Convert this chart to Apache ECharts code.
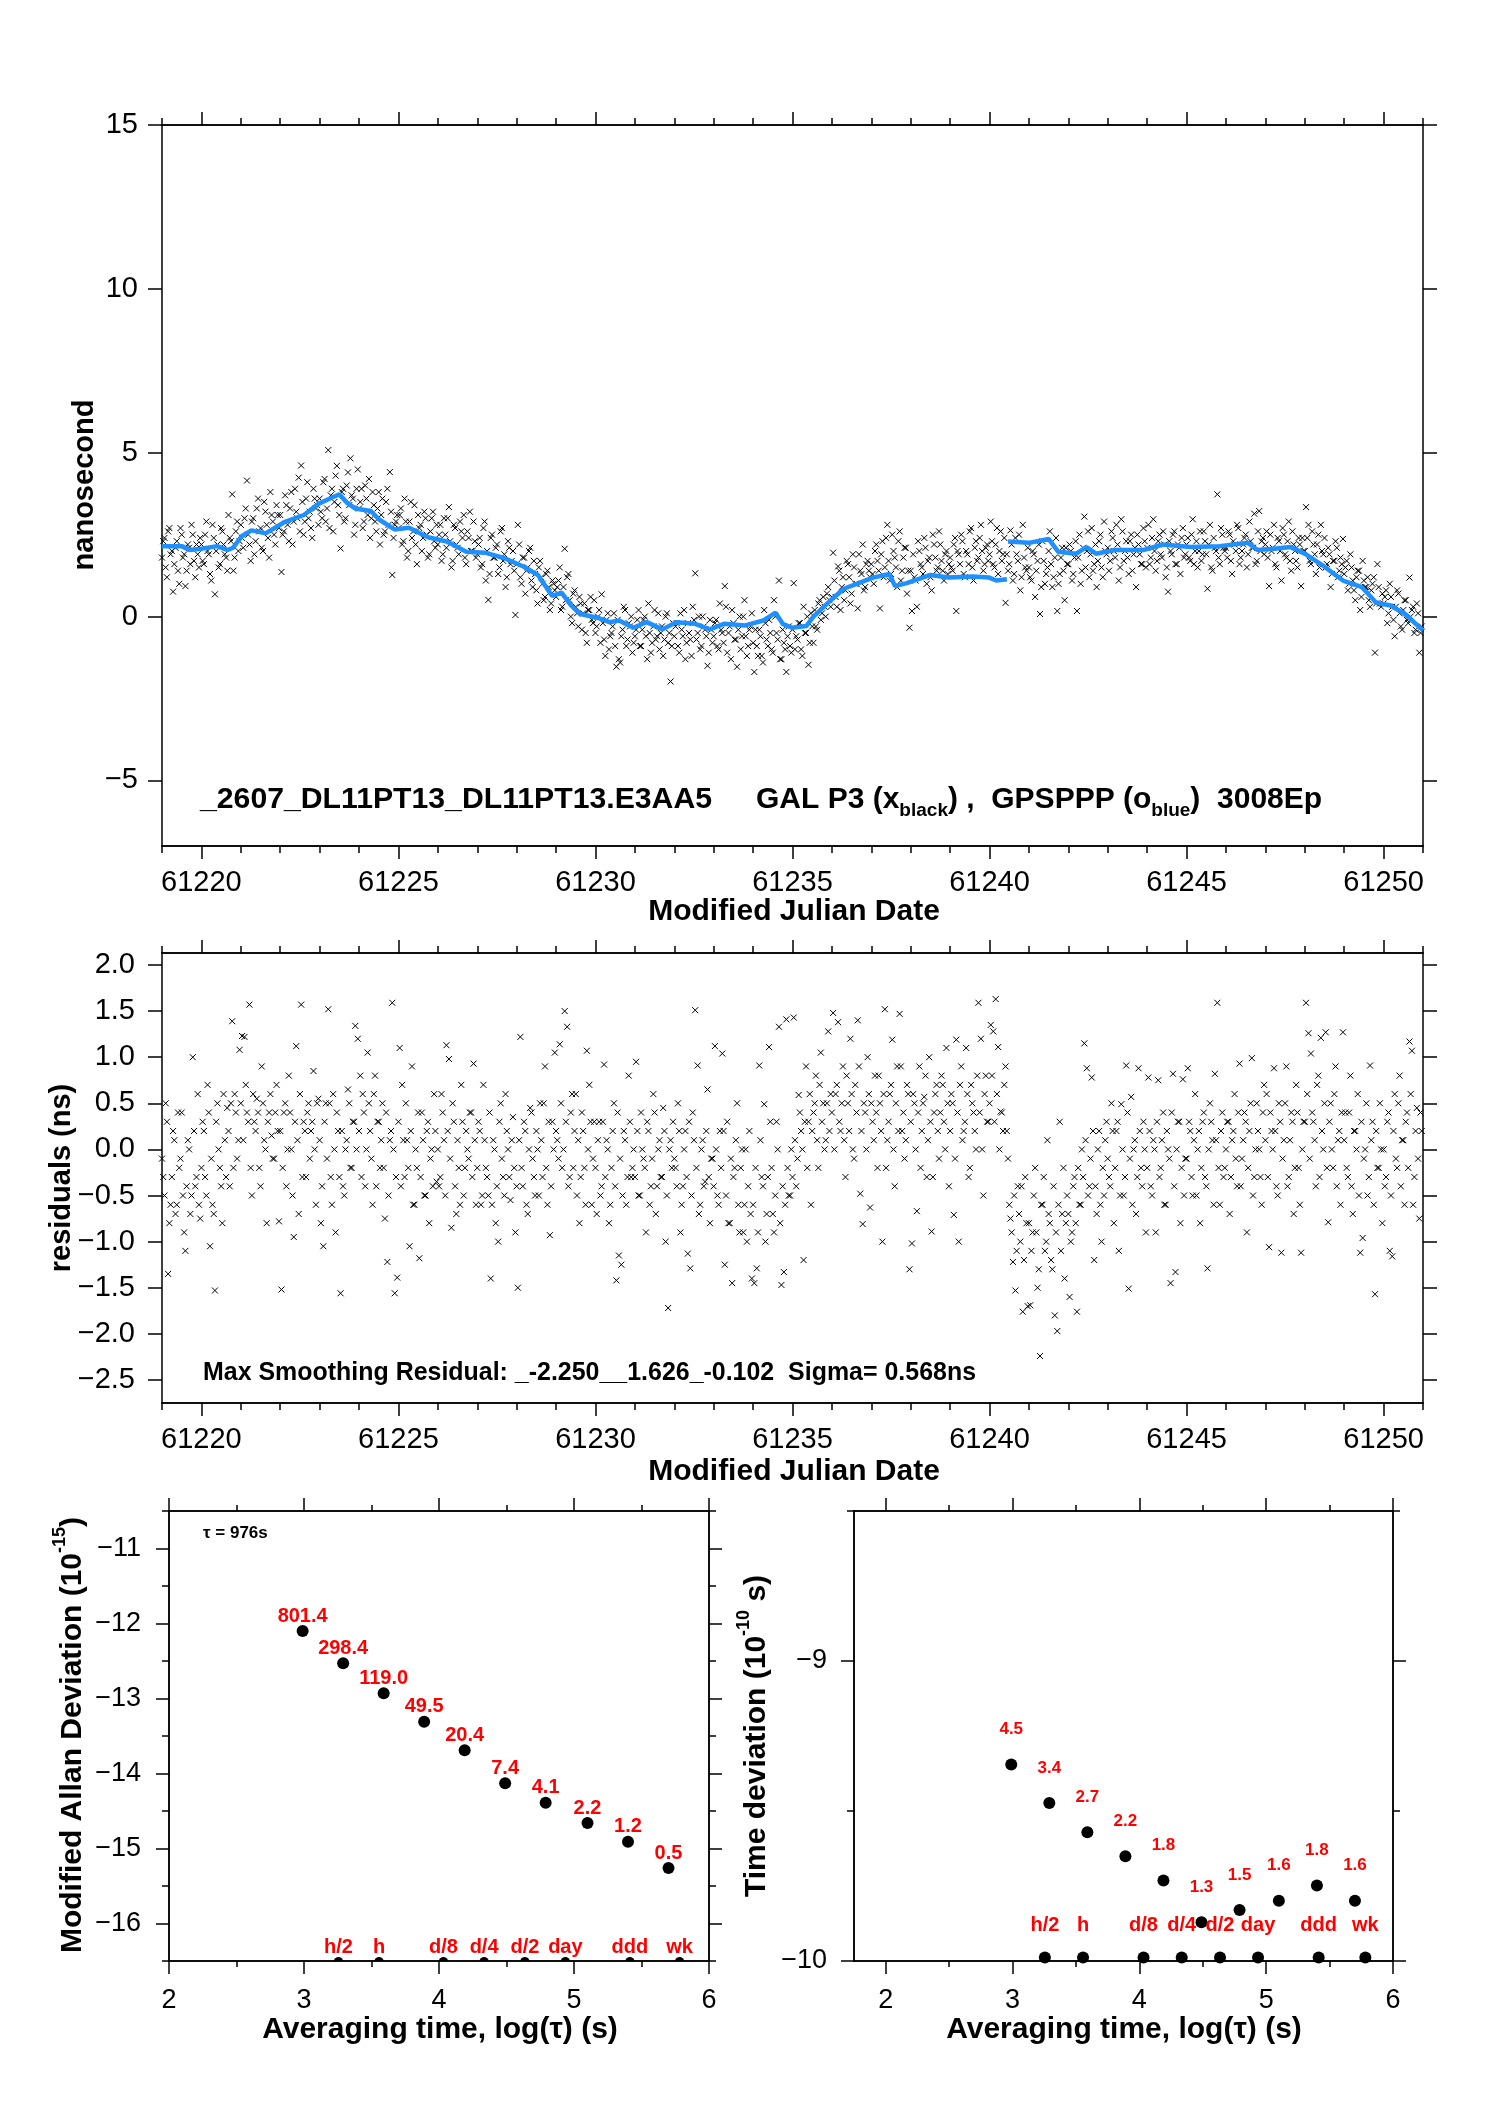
<!DOCTYPE html>
<html lang="en">
<head>
  <meta charset="utf-8">
  <script src="https://cdn.jsdelivr.net/npm/echarts@6.0.0/dist/echarts.min.js"></script>
</head>
<body style="margin:0;background:#fff">
  <div id="container" style="width:1488px;height:2105px"></div>
  <script>
    // ---- data ----
    // epoch grid: 16 samples per day starting at MJD 61219 (one row per day);
    // a second set of rows sits half an epoch earlier
    const FIRST_MJD = 61219;
    const PER_DAY = 16;

    // top panel, black x marks (ns)
    const phaseNs = [
      2.3,1.5,2.6,1.9,0.76,2.1,1.4,2.7,1.8,0.93,2.2,1.6,2.5,1.2,1.9,2.4,
      1.7,2.5,2.0,1.3,2.8,0.68,2.2,1.6,2.6,1.9,1.4,2.4,3.73,1.8,2.9,2.3,
      2.4,3.0,4.15,2.2,2.9,1.9,3.3,2.6,2.1,3.5,2.8,1.8,3.1,2.5,3.4,2.7,
      1.36,2.6,3.4,2.3,3.8,2.9,3.2,4.24,4.61,2.5,3.6,3.0,2.7,3.9,3.3,2.8,
      3.2,4.1,2.9,5.08,3.7,2.6,4.3,3.4,2.08,3.9,3.0,4.4,4.83,3.6,2.8,4.49,
      3.5,2.7,4.0,3.1,2.4,3.8,2.9,3.3,2.2,3.6,2.6,3.9,4.41,1.27,2.8,3.1,
      3.1,2.2,3.6,1.8,2.9,2.4,3.4,1.6,2.7,2.0,3.2,2.5,1.9,3.0,2.3,2.8,
      2.5,1.7,3.0,2.1,3.34,1.5,2.8,2.2,1.9,2.6,3.1,1.6,2.4,2.0,2.9,1.8,
      2.2,1.5,2.7,1.1,0.51,2.4,1.8,2.1,1.3,2.6,1.7,0.9,2.3,1.6,2.0,0.05,
      2.8,1.2,1.8,0.7,1.5,2.1,0.9,1.3,0.4,1.7,1.0,0.6,1.4,0.2,1.1,0.8,
      0.9,1.5,0.3,2.07,1.2,0.5,-0.2,0.8,0.1,0.6,-0.4,0.4,-0.8,0.2,-0.1,0.5,
      -0.3,0.2,0.68,-0.7,-0.1,-1.0,-0.5,0.1,-1.53,-1.3,-0.6,0.3,-0.9,-0.2,0.0,-0.8,
      -0.4,0.2,-0.9,-0.1,-0.6,0.4,-1.1,-0.3,-0.7,0.1,-0.5,-1.2,0.0,-0.8,-1.98,-0.2,
      -0.3,-0.9,0.1,-0.6,-1.3,-0.2,-0.7,0.3,1.32,-0.5,-1.0,0.0,-0.4,-1.5,-0.1,-0.8,
      -0.2,-0.9,0.4,-0.5,0.93,-1.1,-0.3,0.2,-0.7,-1.53,0.0,-0.6,0.5,-1.2,-0.4,0.1,
      -1.69,-0.9,-0.4,-1.2,0.2,-0.7,-0.1,-1.0,0.5,-0.5,1.1,-1.3,-0.8,-1.69,-0.3,-1.1,
      1.02,-0.6,-0.2,-1.0,0.3,-0.5,-1.47,0.1,-0.8,-0.3,0.4,-0.1,0.6,0.0,0.9,0.3,
      1.95,0.6,1.53,0.2,1.2,0.8,1.6,0.4,1.9,1.0,0.25,1.4,2.2,0.9,1.7,1.2,
      1.3,2.0,1.7,0.25,2.3,1.5,2.8,1.1,2.5,1.8,0.9,2.6,1.4,2.1,0.7,-0.34,
      0.17,1.2,0.3,2.0,1.5,2.4,1.0,1.8,0.8,2.2,1.4,2.6,1.7,1.1,2.0,1.6,
      1.5,2.2,0.17,1.9,2.5,1.3,2.0,1.6,2.7,1.1,2.3,1.8,2.8,1.4,2.1,1.7,
      2.9,1.6,2.2,1.3,2.6,1.9,0.42,1.4,2.63,1.1,2.4,1.7,0.8,2.8,1.5,2.1,
      1.2,2.0,0.6,1.7,0.08,2.3,1.0,1.5,2.6,0.9,1.8,0.17,1.3,2.1,0.5,1.6,
      2.2,1.1,1.8,0.17,2.5,1.4,3.05,2.0,1.2,2.7,1.6,0.9,2.3,1.5,2.9,1.9,
      1.4,2.6,2.0,2.8,1.1,2.97,1.7,2.3,1.3,2.5,1.9,0.9,2.2,1.6,2.7,1.5,
      2.8,1.8,2.97,1.4,2.3,1.9,2.6,1.2,0.76,2.0,2.5,1.6,2.2,1.3,2.7,1.9,
      2.4,1.7,2.97,2.0,1.5,2.6,1.9,2.3,0.85,2.8,1.4,2.1,3.73,1.6,2.5,2.0,
      1.8,2.5,1.3,2.2,2.8,1.6,2.0,2.4,1.5,2.9,2.1,3.14,1.7,3.22,2.3,1.9,
      2.6,0.93,2.0,2.8,1.5,2.3,1.1,2.5,1.8,2.9,1.4,2.2,1.7,2.4,0.93,2.0,
      3.34,2.8,1.6,2.2,1.3,2.5,2.8,1.9,1.5,2.1,0.9,1.7,2.3,1.2,1.8,2.37,
      1.5,0.8,1.9,1.1,0.5,1.4,0.2,1.7,0.9,1.2,0.3,1.0,-1.1,1.6,0.4,0.7,
      0.6,-0.2,1.0,0.3,-0.6,0.8,0.1,-0.4,0.5,-0.1,1.19,0.2,-0.5,0.4,-1.1,-0.3
    ];
    const phaseNs2 = [
      1.8,2.4,1.2,2.7,2.0,1.6,2.3,1.0,2.5,1.9,1.4,2.1,2.8,1.7,2.2,1.5,
      2.2,1.6,2.9,1.9,1.1,2.4,2.0,1.5,2.7,2.2,1.8,3.1,2.3,1.4,2.6,2.0,
      2.8,2.1,3.3,2.5,1.7,3.0,2.3,3.6,2.7,2.0,3.2,2.4,3.8,2.9,2.2,3.1,
      3.1,2.5,3.7,2.8,3.3,2.2,3.9,3.0,2.6,3.5,2.9,4.1,3.2,2.4,3.6,3.4,
      3.6,3.0,4.2,3.3,2.7,3.9,3.5,4.6,3.1,3.8,2.9,4.0,3.4,3.7,2.5,3.9,
      3.3,3.9,2.9,3.6,4.2,3.0,3.4,2.6,3.8,3.1,2.5,3.5,2.8,3.2,2.4,2.9,
      2.7,3.3,2.3,2.9,2.0,3.5,2.6,2.2,3.1,2.8,2.4,3.0,1.8,2.6,3.2,2.1,
      2.2,2.8,1.9,2.5,3.0,2.3,1.7,2.7,2.1,2.9,2.4,1.8,2.6,3.2,2.0,2.3,
      1.9,2.4,1.6,2.9,2.0,1.3,2.5,1.8,2.2,1.5,2.7,1.9,1.2,2.1,1.7,1.4,
      1.6,2.2,1.0,1.8,1.4,2.0,1.1,1.7,0.8,1.5,1.2,0.5,1.3,0.9,0.4,1.0,
      0.6,1.1,0.2,0.9,0.5,1.3,0.0,0.7,0.3,-0.3,0.4,0.1,-0.5,0.2,0.6,-0.2,
      -0.5,0.0,-0.8,-0.2,-1.2,0.1,-0.6,-0.3,-0.9,-0.1,-1.4,-0.4,0.2,-0.7,-0.3,-1.1,
      -0.6,-0.1,-0.9,-0.4,0.0,-1.3,-0.5,-0.8,0.2,-0.6,-1.0,-0.3,-0.7,0.1,-0.5,-0.9,
      -0.6,-0.2,-1.1,-0.4,0.2,-0.8,-0.5,-1.2,-0.1,-0.7,0.0,-0.9,-0.3,-0.6,-1.1,-0.4,
      -0.6,-0.1,-1.0,-0.4,-0.8,0.3,-0.5,-1.3,-0.2,-0.7,-0.4,-1.0,0.0,-0.6,-0.9,-0.3,
      -0.8,-0.4,-1.2,-0.6,-1.4,-0.2,-0.9,-0.5,-1.1,0.0,-0.7,-1.3,-0.4,-1.0,-0.6,-0.9,
      -0.4,-1.0,-0.7,-0.2,-1.2,-0.5,0.0,-0.8,-0.3,0.2,-0.4,0.5,0.1,0.3,0.7,0.5,
      0.6,1.1,0.3,1.4,0.9,0.5,1.7,1.2,0.7,1.5,1.0,1.9,1.3,0.8,1.6,1.4,
      1.6,1.0,2.2,1.4,1.9,1.2,2.4,1.7,1.3,2.0,1.5,2.3,1.1,1.8,2.1,1.4,
      1.4,1.9,1.1,2.3,1.6,1.3,2.1,1.7,1.2,2.5,1.8,1.5,2.2,1.4,1.9,1.3,
      1.8,1.4,2.4,2.0,1.6,2.3,1.2,1.9,2.6,1.5,2.1,1.7,2.4,2.0,1.6,2.2,
      1.9,2.3,1.5,2.7,2.0,1.7,2.4,1.9,1.6,2.2,1.3,1.9,2.5,1.2,1.8,1.4,
      1.5,1.1,1.9,1.4,2.2,0.9,1.7,1.3,2.0,1.6,1.2,2.4,1.0,1.8,1.4,2.1,
      1.6,2.0,1.3,2.3,1.8,1.0,2.1,1.5,2.6,1.9,1.4,2.2,1.7,2.5,1.2,2.0,
      2.1,1.7,2.4,1.8,2.2,1.5,2.6,2.0,1.8,2.3,1.4,2.1,2.5,1.9,1.6,2.3,
      2.1,1.6,2.4,2.0,1.7,2.5,1.8,2.2,1.5,2.3,1.9,2.6,1.6,2.1,2.4,1.8,
      2.2,1.8,2.5,1.6,2.3,2.0,1.7,2.6,1.9,2.2,1.5,2.4,2.0,1.8,2.7,2.1,
      2.1,2.6,1.7,2.3,2.0,2.7,1.8,2.2,2.5,1.9,2.3,2.1,1.6,2.6,2.0,2.4,
      2.2,1.8,2.5,2.1,1.6,2.4,2.0,2.7,1.9,2.3,1.7,2.6,2.0,1.5,2.2,2.4,
      2.0,2.4,1.7,2.6,1.9,2.2,1.5,2.0,2.4,1.6,1.9,1.3,1.7,2.1,1.4,1.6,
      1.3,1.7,1.0,1.5,0.8,1.2,1.4,0.6,1.1,0.9,0.5,0.8,1.2,0.4,0.9,0.3,
      0.4,0.8,0.1,0.6,-0.1,0.3,0.7,-0.3,0.2,0.5,-0.2,0.0,0.3,-0.4,0.1,-0.5
    ];

    // top panel, blue GPSPPP curve (null = gap)
    const pppMjd = [
      61219.0,61219.5,61219.7,61220.0,61220.4,61220.67,61220.8,61221.03,61221.27,61221.63,
      61222.1,61222.6,61222.97,61223.33,61223.5,61223.7,61223.9,61224.3,61224.5,61224.9,
      61225.27,61225.75,61226.23,61226.72,61227.2,61227.69,61228.17,61228.54,61228.9,61229.14,
      61229.38,61229.62,61230.1,61230.35,61230.6,61230.96,61231.3,61231.7,61232.05,61232.53,
      61232.9,61233.26,61233.8,61234.26,61234.57,61234.75,61234.99,61235.35,61235.53,61235.9,
      61236.3,61236.68,61237.04,61237.46,61237.6,61237.9,61238.5,61238.97,61239.57,61239.99,
      61240.17,61240.44,61240.45,61240.47,61241.0,61241.5,61241.74,61242.2,61242.46,61242.7,
      61243.18,61243.9,61244.39,61245.1,61245.84,61246.56,61246.8,61247.28,61247.64,61248.0,
      61248.49,61248.97,61249.45,61249.81,61250.18,61250.54,61251.0
    ];
    const pppNs = [
      2.15,2.15,2.03,2.07,2.15,2.03,2.1,2.46,2.63,2.54,
      2.88,3.1,3.44,3.64,3.73,3.47,3.3,3.22,2.97,2.66,
      2.71,2.42,2.29,1.98,1.95,1.78,1.53,1.27,0.63,0.73,
      0.34,0.08,-0.05,-0.17,-0.12,-0.34,-0.17,-0.39,-0.17,-0.22,
      -0.39,-0.22,-0.27,-0.12,0.12,-0.22,-0.34,-0.29,0,0.42,
      0.85,1.02,1.19,1.3,0.93,1.02,1.27,1.19,1.22,1.19,
      1.10,1.14,null,2.29,2.25,2.37,1.98,1.92,2.12,1.92,
      2.03,2.03,2.2,2.12,2.15,2.25,2.03,2.08,2.12,1.92,
      1.53,1.1,0.9,0.42,0.34,0.08,-0.42
    ];

    // middle panel, smoothing residuals (ns)
    const residNs = [
      -0.3,0.5,-1.35,-0.6,0.2,-0.7,0.4,-0.1,-0.5,-1.1,0.1,-0.7,1.0,-0.4,0.6,-0.75,
      0.3,-0.3,0.7,-1.05,-0.6,-1.53,0.5,-0.2,-0.8,0.1,0.45,-0.4,1.39,0.6,-0.1,1.08,
      1.23,1.22,0.4,1.57,-0.5,0.3,0.55,-0.2,0.9,0.1,-0.8,0.4,0.15,-0.1,0.7,-0.78,
      -1.52,0.4,-0.4,0.8,0.0,-0.95,1.12,-0.7,1.57,0.3,-0.3,0.5,0.2,0.85,-0.6,0.55,
      -0.8,-1.05,0.5,1.52,-0.3,0.6,-0.9,0.2,-1.56,-0.4,0.0,0.65,-0.2,0.3,1.34,1.2,
      0.8,0.6,-0.4,1.05,0.2,-0.6,0.8,0.3,-0.2,0.5,-0.75,-1.22,0.1,1.59,-1.56,-1.39,
      1.1,0.7,-0.3,0.1,-1.05,0.9,-0.6,-0.2,-1.18,0.4,-0.5,0.2,-0.8,0.0,0.6,-0.35,
      -0.4,0.6,0.1,1.13,0.98,-0.85,0.3,-0.7,-0.2,0.7,-0.5,0.2,-0.1,0.4,0.93,-0.6,
      0.3,-0.6,0.7,-0.2,-0.5,-1.4,0.1,-0.8,-1.0,0.5,-0.3,0.6,0.0,-0.55,0.35,-0.9,
      -1.5,1.22,-0.4,0.2,-0.7,0.45,-0.1,-0.5,0.0,0.5,-0.3,0.9,-0.6,-0.93,0.3,1.05,
      0.1,1.14,-0.2,1.5,1.33,-0.3,0.6,0.2,-0.5,-0.8,0.4,-0.2,1.07,0.7,-0.6,0.3,
      -0.7,0.3,-0.4,0.92,0.1,-0.8,-0.2,0.5,-1.42,-1.15,-1.25,0.2,-0.6,0.8,-0.3,0.0,
      0.95,-0.5,0.4,-0.1,-0.9,0.2,-0.4,0.6,-0.7,0.0,-0.3,0.45,-1.0,-1.72,0.1,0.3,
      -0.2,0.5,-0.9,-0.4,0.2,-1.13,-1.29,0.4,1.51,0.91,-0.6,0.1,-0.35,0.65,-0.8,-0.1,
      1.12,-0.5,0.2,1.04,-1.25,0.3,-0.8,-1.45,-0.2,0.5,-0.9,0.0,-0.6,-1.0,0.2,-1.4,
      -1.45,-1.29,0.91,-0.3,0.49,-0.7,1.11,-0.2,-0.9,0.3,1.33,-1.47,-1.33,1.41,-0.5,0.0,
      1.43,-0.4,0.59,0.2,-1.2,0.9,0.3,-0.6,0.4,0.8,-0.2,1.05,0.5,0.1,1.28,0.6,
      1.48,0.6,1.38,0.2,0.9,-0.3,0.5,1.2,0.0,0.7,1.4,-0.48,-0.81,0.4,1.0,-0.63,
      0.3,0.8,-0.2,0.5,-1.0,1.52,0.1,0.6,1.19,-0.4,0.9,1.47,0.2,-0.1,0.7,-1.3,
      -1.02,0.5,-0.67,0.9,0.2,0.57,-0.3,1.0,-0.89,0.4,0.7,-0.1,0.8,0.3,1.1,-0.4,
      0.6,-0.71,1.19,-1.0,0.9,0.2,1.1,-0.3,0.7,0.4,0.0,1.59,1.2,-0.5,0.8,0.3,
      1.35,1.28,1.63,1.11,0.41,0.2,0.9,-0.1,-0.75,-1.22,-1.53,-0.4,-1.0,-1.76,-0.3,-1.7,
      -1.69,-0.9,-0.2,-1.5,-2.24,-0.6,-1.1,0.1,-0.8,-1.3,-1.8,-1.97,0.3,-0.7,-1.4,-0.5,
      -1.6,-0.9,-0.3,-1.76,-0.6,0.0,1.15,0.88,-0.4,0.78,-1.2,-0.7,0.2,-1.0,-0.5,0.3,
      -0.3,0.5,-0.8,0.2,-1.1,0.49,-0.5,0.91,-1.51,0.57,0.0,-0.7,0.88,-0.2,0.3,-0.9,
      0.78,-0.4,0.1,-0.9,0.75,-0.2,0.4,-0.6,0.0,-1.45,0.82,-1.33,0.3,-0.8,0.76,-0.1,
      0.88,0.2,-0.5,0.6,0.0,-0.8,0.3,-0.3,-1.29,0.5,0.1,0.82,1.59,-0.6,0.4,-0.2,
      0.3,-0.7,0.1,0.6,-0.4,0.93,-0.1,0.4,-0.9,0.2,0.99,-0.3,0.5,0.0,-0.6,0.7,
      0.6,-1.06,0.2,0.88,-0.4,0.5,-1.12,0.1,0.9,-0.3,0.4,-0.7,0.7,-0.2,-1.12,0.3,
      1.59,1.26,1.04,0.3,-0.4,0.8,1.21,0.0,1.27,-0.79,0.5,-0.2,0.9,0.1,-0.6,1.27,
      0.4,-0.3,0.8,-0.7,0.2,0.6,-1.12,-0.96,0.0,-0.5,0.91,0.3,-1.57,-0.2,0.5,-0.8,
      -0.4,0.3,-1.1,-1.16,0.6,-0.2,0.8,0.1,-0.6,0.4,1.17,1.07,-0.3,0.45,-0.75,0.2
    ];
    const residNs2 = [
      -0.1,-0.5,0.3,-0.8,-0.3,0.1,-0.6,-0.2,0.4,-0.9,-0.4,0.0,-0.5,0.2,-0.3,-0.6,
      -0.2,0.2,-0.5,0.4,-0.1,-0.7,0.3,0.0,-0.4,0.6,-0.3,0.2,0.5,-0.2,0.4,0.1,
      0.5,0.1,0.7,0.3,-0.2,0.6,0.2,0.4,-0.4,0.5,0.0,0.3,0.6,-0.1,0.4,0.2,
      0.2,-0.2,0.5,0.0,0.4,-0.5,0.3,0.1,0.6,-0.3,0.2,0.4,-0.1,0.3,0.0,0.5,
      0.1,-0.4,0.3,-0.1,0.5,-0.6,0.0,0.4,-0.3,0.2,-0.5,0.1,0.5,-0.2,0.3,0.0,
      0.2,-0.3,0.4,0.0,0.5,-0.1,0.6,-0.4,0.3,0.1,-0.2,0.4,-0.5,0.2,0.0,-0.3,
      0.3,-0.4,0.1,0.5,-0.2,0.2,-0.6,0.0,0.4,-0.3,0.1,-0.5,0.3,-0.1,-0.4,0.2,
      0.0,-0.3,0.4,-0.5,0.2,-0.1,0.5,-0.4,0.1,-0.6,0.3,-0.2,0.0,0.4,-0.3,0.1,
      -0.2,0.2,-0.5,0.1,-0.3,0.4,-0.6,0.0,-0.4,0.3,-0.1,-0.5,0.2,-0.3,0.1,-0.2,
      -0.4,0.1,-0.2,0.3,-0.6,0.0,0.4,-0.3,0.2,-0.5,0.1,0.5,-0.2,0.3,-0.4,0.0,
      0.2,-0.1,0.5,0.0,0.3,-0.4,0.4,-0.2,0.6,0.1,-0.3,0.2,-0.6,0.0,0.3,-0.1,
      -0.2,0.1,-0.5,0.3,-0.3,0.0,-0.6,0.2,-0.4,0.4,-0.1,-0.5,0.1,-0.3,0.3,-0.2,
      -0.3,0.2,-0.5,0.0,-0.2,0.3,-0.6,-0.1,0.4,-0.4,0.1,-0.3,0.2,-0.5,0.0,-0.2,
      -0.1,-0.4,0.2,-0.6,0.0,-0.3,0.3,-0.5,0.1,-0.2,-0.7,0.0,-0.4,0.2,-0.3,-0.1,
      -0.4,0.0,-0.6,-0.2,0.2,-0.5,-0.8,-0.1,-0.3,0.1,-0.6,-0.2,-0.9,0.0,-0.4,-0.7,
      -0.6,-0.2,-0.9,0.1,-0.4,-1.0,-0.3,0.3,-0.7,-0.5,0.0,-0.8,-0.4,-0.6,-0.2,-0.5,
      -0.3,0.1,-0.1,0.4,0.0,0.3,-0.2,0.6,0.2,0.5,0.1,0.7,0.3,0.0,0.5,0.2,
      0.4,0.0,0.7,0.3,0.5,0.1,0.8,0.2,0.6,-0.1,0.4,0.9,0.2,0.5,0.0,0.6,
      0.5,0.1,0.4,0.8,0.2,0.6,-0.2,0.3,0.7,0.0,0.5,0.2,0.9,0.4,0.1,0.6,
      0.3,0.6,0.0,0.4,-0.2,0.5,0.8,0.1,0.3,-0.3,0.6,0.2,0.4,0.7,0.0,0.5,
      0.2,0.5,-0.1,0.4,0.7,0.1,0.3,0.6,-0.2,0.5,0.2,0.8,0.4,0.0,0.6,0.3,
      0.5,0.8,0.3,0.6,0.0,0.4,0.7,0.2,-0.6,-0.9,-0.5,-1.1,-0.7,-0.4,-1.2,-0.8,
      -0.8,-1.1,-0.5,-0.9,-1.3,-0.6,-0.3,-1.0,-0.7,-1.2,-0.4,-0.9,-0.6,-1.1,-0.2,-0.8,
      -0.7,-1.0,-0.4,-0.8,-0.2,-0.6,-0.3,0.1,-0.5,-0.1,0.2,-0.4,0.0,-0.6,-0.2,0.1,
      -0.1,-0.4,0.2,-0.2,0.3,-0.5,0.0,-0.3,0.4,-0.1,-0.6,0.1,-0.3,0.2,-0.4,0.0,
      -0.2,0.2,-0.5,0.0,0.3,-0.3,0.1,-0.6,0.2,-0.1,0.4,-0.4,0.0,0.3,-0.2,-0.5,
      -0.1,0.3,-0.3,0.1,-0.5,0.2,-0.2,0.4,-0.4,0.0,0.3,-0.6,0.1,-0.2,0.2,-0.3,
      0.0,0.3,-0.3,0.2,-0.1,0.4,-0.4,0.1,0.3,-0.2,0.5,-0.5,0.0,0.2,-0.3,0.4,
      0.1,-0.3,0.4,0.0,0.2,-0.5,0.3,-0.1,0.5,-0.4,0.1,0.3,-0.2,0.4,-0.6,0.0,
      0.3,0.6,-0.1,0.4,0.1,0.7,-0.3,0.2,0.5,-0.2,0.3,0.0,0.6,-0.4,0.2,0.4,
      0.1,-0.2,0.4,-0.4,0.2,0.0,-0.5,0.3,-0.1,0.5,-0.3,0.1,-0.6,0.2,-0.2,0.0,
      0.0,-0.3,0.4,-0.5,0.2,-0.1,0.5,-0.4,0.1,0.3,-0.2,0.6,-0.6,0.2,-0.1,0.4
    ];

    // bottom panels
    const logTau = [2.99, 3.29, 3.59, 3.89, 4.19, 4.49, 4.79, 5.10, 5.40, 5.70];
    const madevLog = [-12.10, -12.53, -12.93, -13.31, -13.69, -14.13, -14.39, -14.66, -14.91, -15.26];
    const madevText = ['801.4', '298.4', '119.0', '49.5', '20.4', '7.4', '4.1', '2.2', '1.2', '0.5'];
    const tdevLog = [-9.345, -9.473, -9.571, -9.651, -9.732, -9.871, -9.830, -9.799, -9.748, -9.799];
    const tdevText = ['4.5', '3.4', '2.7', '2.2', '1.8', '1.3', '1.5', '1.6', '1.8', '1.6'];
    const markTau = [3.255, 3.556, 4.033, 4.334, 4.636, 4.936, 5.414, 5.782];
    const markText = ['h/2', 'h', 'd/8', 'd/4', 'd/2', 'day', 'ddd', 'wk'];

    // tick values
    const mjdMajor = [61220, 61225, 61230, 61235, 61240, 61245, 61250];
    const nsTicks = [-5, 0, 5, 10, 15];
    const residTicks = [-2.5, -2, -1.5, -1, -0.5, 0, 0.5, 1, 1.5, 2];
    const tauMajor = [2, 3, 4, 5, 6];
    const tauMinor = [2.5, 3.5, 4.5, 5.5];
    const madevMajor = [-16, -15, -14, -13, -12, -11];
    const madevMinor = [-16.5, -15.5, -14.5, -13.5, -12.5, -11.5, -10.5];
    const tdevMajor = [-10, -9];
    const tdevMinor = [-9.5, -8.5];

    // ---- chart ----
    var FONT = '"Liberation Sans", Arial, Helvetica, sans-serif';
    var RED = '#ff0000';
    var mjdMinor = [];
    for (var d = 61219; d <= 61251; d++) mjdMinor.push(d);

    function minus(v, digits) {
      var s = digits == null ? String(v) : v.toFixed(digits);
      return s.replace('-', '\u2212');
    }

    function axis(grid, pos, min, max, ticks, len, label) {
      return {
        type: 'value', gridIndex: grid, position: pos, min: min, max: max,
        axisLine: { show: true, onZero: false, lineStyle: { color: '#000', width: 1.5 } },
        axisTick: { show: true, inside: false, length: len, customValues: ticks,
          lineStyle: { color: '#000', width: 1.5 } },
        axisLabel: label ? Object.assign({ customValues: ticks, color: '#000', fontFamily: FONT }, label)
          : { show: false },
        splitLine: { show: false }
      };
    }

    // shift = position of the sample inside its epoch slot
    function epochs(vals, shift) {
      return vals.map(function (v, i) { return [FIRST_MJD + (i + shift) / PER_DAY, v]; });
    }

    var xMark = 'path://M0,0L10,10M0,10L10,0';
    var markStyle = { color: '#000', borderColor: '#000', borderWidth: 1, opacity: 1 };
    var mjdLabel = { fontSize: 29, margin: 22, formatter: function (v) { return String(v); } };

    var xAxes = [
      axis(0, 'bottom', 61219, 61251, mjdMajor, 13, mjdLabel),
      axis(0, 'bottom', 61219, 61251, mjdMinor, 7),
      axis(0, 'top', 61219, 61251, mjdMajor, 13),
      axis(0, 'top', 61219, 61251, mjdMinor, 7),
      axis(1, 'bottom', 61219, 61251, mjdMajor, 13, mjdLabel),
      axis(1, 'bottom', 61219, 61251, mjdMinor, 7),
      axis(1, 'top', 61219, 61251, mjdMajor, 13),
      axis(1, 'top', 61219, 61251, mjdMinor, 7),
      axis(2, 'bottom', 2, 6, tauMajor, 13, { fontSize: 27, margin: 26 }),
      axis(2, 'bottom', 2, 6, tauMinor, 6),
      axis(2, 'top', 2, 6, tauMajor, 13),
      axis(2, 'top', 2, 6, tauMinor, 6),
      axis(3, 'bottom', 1.75, 6, tauMajor, 13, { fontSize: 27, margin: 26 }),
      axis(3, 'bottom', 1.75, 6, tauMinor, 6),
      axis(3, 'top', 1.75, 6, tauMajor, 13),
      axis(3, 'top', 1.75, 6, tauMinor, 6)
    ];

    var yAxes = [
      axis(0, 'left', -7, 15, nsTicks, 14, { fontSize: 29, margin: 24, formatter: function (v) { return minus(v); } }),
      axis(0, 'right', -7, 15, nsTicks, 14),
      axis(1, 'left', -2.75, 2.13, residTicks, 14, { fontSize: 29, margin: 27, formatter: function (v) { return minus(v, 1); } }),
      axis(1, 'right', -2.75, 2.13, residTicks, 14),
      axis(2, 'left', -16.5, -10.5, madevMajor, 13, { fontSize: 27, margin: 28, formatter: function (v) { return minus(v); } }),
      axis(2, 'left', -16.5, -10.5, madevMinor, 7),
      axis(2, 'right', -16.5, -10.5, madevMajor, 13),
      axis(2, 'right', -16.5, -10.5, madevMinor, 7),
      axis(3, 'left', -10, -8.5, tdevMajor, 13, { fontSize: 27, margin: 27, formatter: function (v) { return minus(v); } }),
      axis(3, 'left', -10, -8.5, tdevMinor, 7),
      axis(3, 'right', -10, -8.5, tdevMajor, 13),
      axis(3, 'right', -10, -8.5, tdevMinor, 7)
    ];

    function fitScale(text, font, target) {
      var ctx = document.createElement('canvas').getContext('2d');
      ctx.font = font;
      return target / ctx.measureText(text).width;
    }

    var titleA = '_2607_DL11PT13_DL11PT13.E3AA5';
    var residNote = 'Max Smoothing Residual: _-2.250__1.626_-0.102  Sigma= 0.568ns';

    function label(x, y, text, size, extra, align) {
      return Object.assign({
        type: 'text', x: x, y: y,
        style: { text: text, font: 'bold ' + size + 'px ' + FONT, fill: '#000',
          align: align || 'center', verticalAlign: 'middle' }
      }, extra || {});
    }

    function supLabel(x, y, main, sup, tail) {
      return {
        type: 'text', x: x, y: y, rotation: Math.PI / 2,
        style: {
          text: '{m|' + main + '}{s|' + sup + '}{m|' + tail + '}',
          align: 'center', verticalAlign: 'middle', fill: '#000',
          rich: {
            m: { fontFamily: FONT, fontWeight: 'bold', fontSize: 30, lineHeight: 44 },
            s: { fontFamily: FONT, fontWeight: 'bold', fontSize: 18, lineHeight: 14, verticalAlign: 'top' }
          }
        }
      };
    }

    var graphics = [
      label(85, 485, 'nanosecond', 29, { rotation: Math.PI / 2 }),
      label(794, 912, 'Modified Julian Date', 30),
      label(200, 800, titleA, 30, { scaleX: fitScale(titleA, 'bold 30px ' + FONT, 512) }, 'left'),
      {
        type: 'text', x: 756, y: 800,
        style: {
          text: '{a|GAL P3 (x}{b|black}{a|) ,  GPSPPP (o}{b|blue}{a|)  3008Ep}',
          align: 'left', verticalAlign: 'middle', fill: '#000',
          rich: {
            a: { fontFamily: FONT, fontWeight: 'bold', fontSize: 30, lineHeight: 40, verticalAlign: 'middle' },
            b: { fontFamily: FONT, fontWeight: 'bold', fontSize: 19, lineHeight: 19, verticalAlign: 'bottom' }
          }
        }
      },
      label(62, 1178, 'residuals (ns)', 29, { rotation: Math.PI / 2 }),
      label(203, 1373, residNote, 26, { scaleX: fitScale(residNote, 'bold 26px ' + FONT, 773) }, 'left'),
      label(794, 1472, 'Modified Julian Date', 30),
      label(203, 1533, '\u03c4 = 976s', 17, null, 'left'),
      supLabel(73, 1735, 'Modified Allan Deviation (10', '-15', ')'),
      supLabel(757, 1736, 'Time deviation (10', '-10', ' s)'),
      label(440, 2030, 'Averaging time, log(\u03c4) (s)', 30),
      label(1124, 2030, 'Averaging time, log(\u03c4) (s)', 30)
    ];

    var redLabel = function (texts, size, dy) {
      return {
        show: true, position: 'inside', offset: [0, dy], color: RED,
        fontFamily: FONT, fontWeight: 'bold', fontSize: size,
        formatter: function (p) { return texts[p.dataIndex]; }
      };
    };

    var option = {
      animation: false,
      backgroundColor: '#fff',
      textStyle: { fontFamily: FONT },
      grid: [
        { left: 162, top: 125, width: 1261, height: 721 },
        { left: 162, top: 953, width: 1261, height: 450 },
        { left: 169, top: 1511, width: 540, height: 450 },
        { left: 854, top: 1511, width: 539, height: 450 }
      ],
      xAxis: xAxes,
      yAxis: yAxes,
      graphic: graphics,
      series: [
        {
          type: 'scatter', xAxisIndex: 0, yAxisIndex: 0, symbol: xMark, symbolSize: 6,
          itemStyle: markStyle, data: epochs(phaseNs, 0.5), silent: true, z: 2
        },
        {
          type: 'scatter', xAxisIndex: 0, yAxisIndex: 0, symbol: xMark, symbolSize: 6,
          itemStyle: markStyle, data: epochs(phaseNs2, 0), silent: true, z: 2
        },
        {
          type: 'line', xAxisIndex: 0, yAxisIndex: 0, showSymbol: false,
          lineStyle: { color: '#1e90ff', width: 4.5 }, itemStyle: { color: '#1e90ff' },
          data: pppMjd.map(function (t, i) { return [t, pppNs[i]]; }), silent: true, z: 3
        },
        {
          type: 'scatter', xAxisIndex: 4, yAxisIndex: 2, symbol: xMark, symbolSize: 6,
          itemStyle: markStyle, data: epochs(residNs, 0.5), silent: true
        },
        {
          type: 'scatter', xAxisIndex: 4, yAxisIndex: 2, symbol: xMark, symbolSize: 6,
          itemStyle: markStyle, data: epochs(residNs2, 0), silent: true
        },
        {
          type: 'scatter', xAxisIndex: 8, yAxisIndex: 4, symbol: 'circle', symbolSize: 12,
          itemStyle: { color: '#000', opacity: 1 },
          data: logTau.map(function (t, i) { return [t, madevLog[i]]; }),
          label: redLabel(madevText, 20, -15), silent: true
        },
        {
          type: 'scatter', xAxisIndex: 8, yAxisIndex: 4,
          symbol: 'path://M0,10A10,10 0 0 1 20,10Z', symbolSize: [9, 4], symbolOffset: [0, -2],
          itemStyle: { color: '#000', opacity: 1 },
          data: markTau.map(function (t) { return [t, -16.5]; }),
          label: redLabel(markText, 20, -12), silent: true
        },
        {
          type: 'scatter', xAxisIndex: 12, yAxisIndex: 8, symbol: 'circle', symbolSize: 12,
          itemStyle: { color: '#000', opacity: 1 },
          data: logTau.map(function (t, i) { return [t, tdevLog[i]]; }),
          label: redLabel(tdevText, 17, -35), silent: true
        },
        {
          type: 'scatter', xAxisIndex: 12, yAxisIndex: 8, symbol: 'circle', symbolSize: 12,
          itemStyle: { color: '#000', opacity: 1 }, clip: false,
          data: markTau.map(function (t) { return [t, -9.988]; }),
          label: redLabel(markText, 20, -32), silent: true
        }
      ]
    };

    var dom = document.getElementById('container');
    var myChart = echarts.init(dom, null, { renderer: 'canvas' });
    myChart.setOption(option);
    window.addEventListener('resize', myChart.resize);
  </script>
</body>
</html>
